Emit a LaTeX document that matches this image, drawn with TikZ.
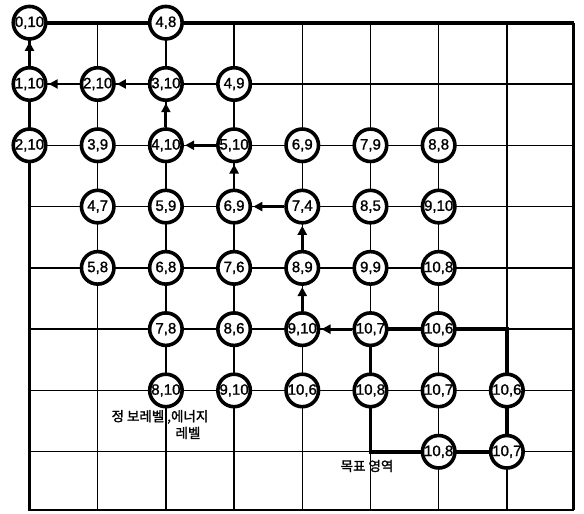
\documentclass[tikz,border=0pt]{standalone}
\usepackage{fontspec}
\setmainfont{Liberation Sans}
\newfontfamily\num[FakeBold=1.2]{Liberation Sans}
\newfontfamily\kr[FakeBold=1.6]{Noto Sans CJK KR}
\usetikzlibrary{arrows.meta,backgrounds}
\tikzset{
  st/.style={circle,draw=black,fill=white,line width=3.6pt,minimum size=32.5pt,inner sep=0pt,
    font=\num\fontsize{15}{15}\selectfont},
  gridline/.style={line width=1.4pt},
  border/.style={line width=2.6pt},
  goal/.style={line width=3.8pt},
  move/.style={line width=2.8pt,-{Triangle[length=9pt,width=9pt]},shorten >=1.2pt},
  lbl/.style={font=\kr\fontsize{13.5}{14}\selectfont,inner sep=0pt}
}
\begin{document}
\begin{tikzpicture}[x=68.2pt,y=-61.3pt]
\useasboundingbox (-0.4326,-0.370) rectangle (8.131,8.015);
% grid
\foreach \i in {1,...,7} {
  \draw[gridline] (\i,0) -- (\i,7.95);
  \draw[gridline] (0,\i) -- (7.98,\i);
}
% border
\draw[border] (0,0) -- (0,7.95) -- (7.98,7.95);
\draw[line width=3.4pt] (7.98,7.95) -- (7.98,0);
\draw[line width=4pt] (0,0) -- (7.98,0);
% states
\node[st] (n00) at (0,0) {0,10};
\node[st] (n20) at (2,0) {4,8};
\node[st] (n01) at (0,1) {1,10};
\node[st] (n11) at (1,1) {2,10};
\node[st] (n21) at (2,1) {3,10};
\node[st] (n31) at (3,1) {4,9};
\node[st] (n02) at (0,2) {2,10};
\node[st] (n12) at (1,2) {3,9};
\node[st] (n22) at (2,2) {4,10};
\node[st] (n32) at (3,2) {5,10};
\node[st] (n42) at (4,2) {6,9};
\node[st] (n52) at (5,2) {7,9};
\node[st] (n62) at (6,2) {8,8};
\node[st] (n13) at (1,3) {4,7};
\node[st] (n23) at (2,3) {5,9};
\node[st] (n33) at (3,3) {6,9};
\node[st] (n43) at (4,3) {7,4};
\node[st] (n53) at (5,3) {8,5};
\node[st] (n63) at (6,3) {9,10};
\node[st] (n14) at (1,4) {5,8};
\node[st] (n24) at (2,4) {6,8};
\node[st] (n34) at (3,4) {7,6};
\node[st] (n44) at (4,4) {8,9};
\node[st] (n54) at (5,4) {9,9};
\node[st] (n64) at (6,4) {10,8};
\node[st] (n25) at (2,5) {7,8};
\node[st] (n35) at (3,5) {8,6};
\node[st] (n45) at (4,5) {9,10};
\node[st] (n55) at (5,5) {10,7};
\node[st] (n65) at (6,5) {10,6};
\node[st] (n26) at (2,6) {8,10};
\node[st] (n36) at (3,6) {9,10};
\node[st] (n46) at (4,6) {10,6};
\node[st] (n56) at (5,6) {10,8};
\node[st] (n66) at (6,6) {10,7};
\node[st] (n76) at (7,6) {10,6};
\node[st] (n67) at (6,7) {10,8};
\node[st] (n77) at (7,7) {10,7};
\coordinate (c75) at (7,5);
\coordinate (c57) at (5,7);
% goal region
\begin{pgfonlayer}{background}
\draw[goal,line join=miter] (n55.center) -- (n65.center) -- (c75) -- (n76.center) -- (n77.center)
  -- (n67.center) -- (c57) -- (n56.center) -- cycle;
\end{pgfonlayer}
% path arrows
\draw[move] (n01) -- (n00);
\draw[move] (n11) -- (n01);
\draw[move] (n21) -- (n11);
\draw[move] (n22) -- (n21);
\draw[move] (n32) -- (n22);
\draw[move] (n33) -- (n32);
\draw[move] (n43) -- (n33);
\draw[move] (n44) -- (n43);
\draw[move] (n45) -- (n44);
\draw[move] (n55) -- (n45);
% labels
\node[lbl] (t1) at (1.913,6.432) {정 보레벨 ,에너지};
\node[lbl] (t2) at (2.324,6.693) {레벨};
\node[lbl] (t3) at (4.949,7.232) {목표 영역};
\end{tikzpicture}
\end{document}
